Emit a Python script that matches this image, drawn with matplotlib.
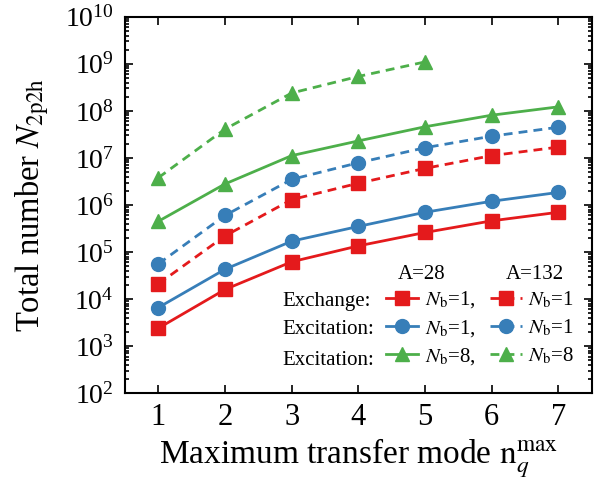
import numpy as np
import matplotlib
matplotlib.use("Agg")
import matplotlib.pyplot as plt
from matplotlib.ticker import LogLocator, NullFormatter

plt.rcParams['font.family'] = ['Liberation Serif', 'DejaVu Serif']
plt.rcParams['mathtext.fontset'] = 'stix'

# data
nq = [1, 2, 3, 4, 5, 6, 7]
nq_a132_nb8 = [1, 2, 3, 4, 5]

exch_a28_nb1 = [2.4e3, 1.6e4, 6.2e4, 1.35e5, 2.6e5, 4.6e5, 7.0e5]
exci_a28_nb1 = [6.6e3, 4.3e4, 1.7e5, 3.5e5, 7.0e5, 1.2e6, 1.85e6]
exci_a28_nb8 = [4.5e5, 2.8e6, 1.12e7, 2.3e7, 4.6e7, 8.1e7, 1.22e8]
exch_a132_nb1 = [2.1e4, 2.2e5, 1.3e6, 2.9e6, 6.0e6, 1.12e7, 1.7e7]
exci_a132_nb1 = [5.6e4, 6.0e5, 3.5e6, 7.9e6, 1.65e7, 2.9e7, 4.5e7]
exci_a132_nb8 = [3.8e6, 4.1e7, 2.4e8, 5.4e8, 1.1e9]

red = '#E41A1C'
blue = '#377EB8'
green = '#4DAF4A'

fig = plt.figure(figsize=(6.07, 4.80), dpi=100)
ax = fig.add_axes([0.206, 0.181, 0.769, 0.784])

lw = 2.0
ms = 9.5
dash = (3.2, 2.2)

l1, = ax.plot(nq, exch_a28_nb1, '-s', color=red, lw=lw, ms=ms)
l2, = ax.plot(nq, exci_a28_nb1, '-o', color=blue, lw=lw, ms=ms + 0.5)
l3, = ax.plot(nq, exci_a28_nb8, '-^', color=green, lw=lw, ms=ms + 1)
l4, = ax.plot(nq, exch_a132_nb1, '--s', color=red, lw=lw, ms=ms, dashes=dash)
l5, = ax.plot(nq, exci_a132_nb1, '--o', color=blue, lw=lw, ms=ms + 0.5, dashes=dash)
l6, = ax.plot(nq_a132_nb8, exci_a132_nb8, '--^', color=green, lw=lw, ms=ms + 1, dashes=dash)

ax.set_yscale('log')
ax.set_xlim(0.5, 7.5)
ax.set_ylim(1e2, 1e10)
ax.set_xticks(nq)
ax.yaxis.set_major_locator(LogLocator(base=10, numticks=20))
ax.yaxis.set_minor_locator(LogLocator(base=10, subs=np.arange(2, 10), numticks=20))
ax.yaxis.set_minor_formatter(NullFormatter())

ax.tick_params(which='both', direction='in', top=True, right=True, width=1.2)
ax.tick_params(which='major', length=6, labelsize=20)
ax.tick_params(which='minor', length=3)
ax.tick_params(axis='x', which='major', labelsize=22, pad=7)
ax.tick_params(axis='y', which='major', pad=8)
for s in ax.spines.values():
    s.set_linewidth(1.5)

ax.set_xlabel(r'Maximum transfer mode $\mathrm{n}_{q}^{\mathrm{max}}$', fontsize=24, labelpad=4)
ax.set_ylabel(r'Total number $N_{\mathrm{2p2h}}$', fontsize=23.5, labelpad=10)

labels = [r'$N_\mathrm{b}$=1,', r'$N_\mathrm{b}$=1,', r'$N_\mathrm{b}$=8,',
          r'$N_\mathrm{b}$=1', r'$N_\mathrm{b}$=1', r'$N_\mathrm{b}$=8']
ax.legend([l1, l2, l3, l4, l5, l6], labels, ncol=2, frameon=False,
          fontsize=15, loc='upper left', bbox_to_anchor=(0.559, 0.276),
          borderpad=0, borderaxespad=0, handlelength=1.55, handletextpad=0.3,
          columnspacing=0.7, labelspacing=0.35)

fs = 15
ax.text(0.635, 0.314, 'A=28', transform=ax.transAxes, fontsize=fs, ha='center', va='center')
ax.text(0.878, 0.314, 'A=132', transform=ax.transAxes, fontsize=fs, ha='center', va='center')
for yy, name in zip([0.243, 0.168, 0.088], ['Exchange:', 'Excitation:', 'Excitation:']):
    ax.text(0.338, yy, name, transform=ax.transAxes, fontsize=fs, ha='left', va='center')

fig.savefig('out.png', dpi=100)
